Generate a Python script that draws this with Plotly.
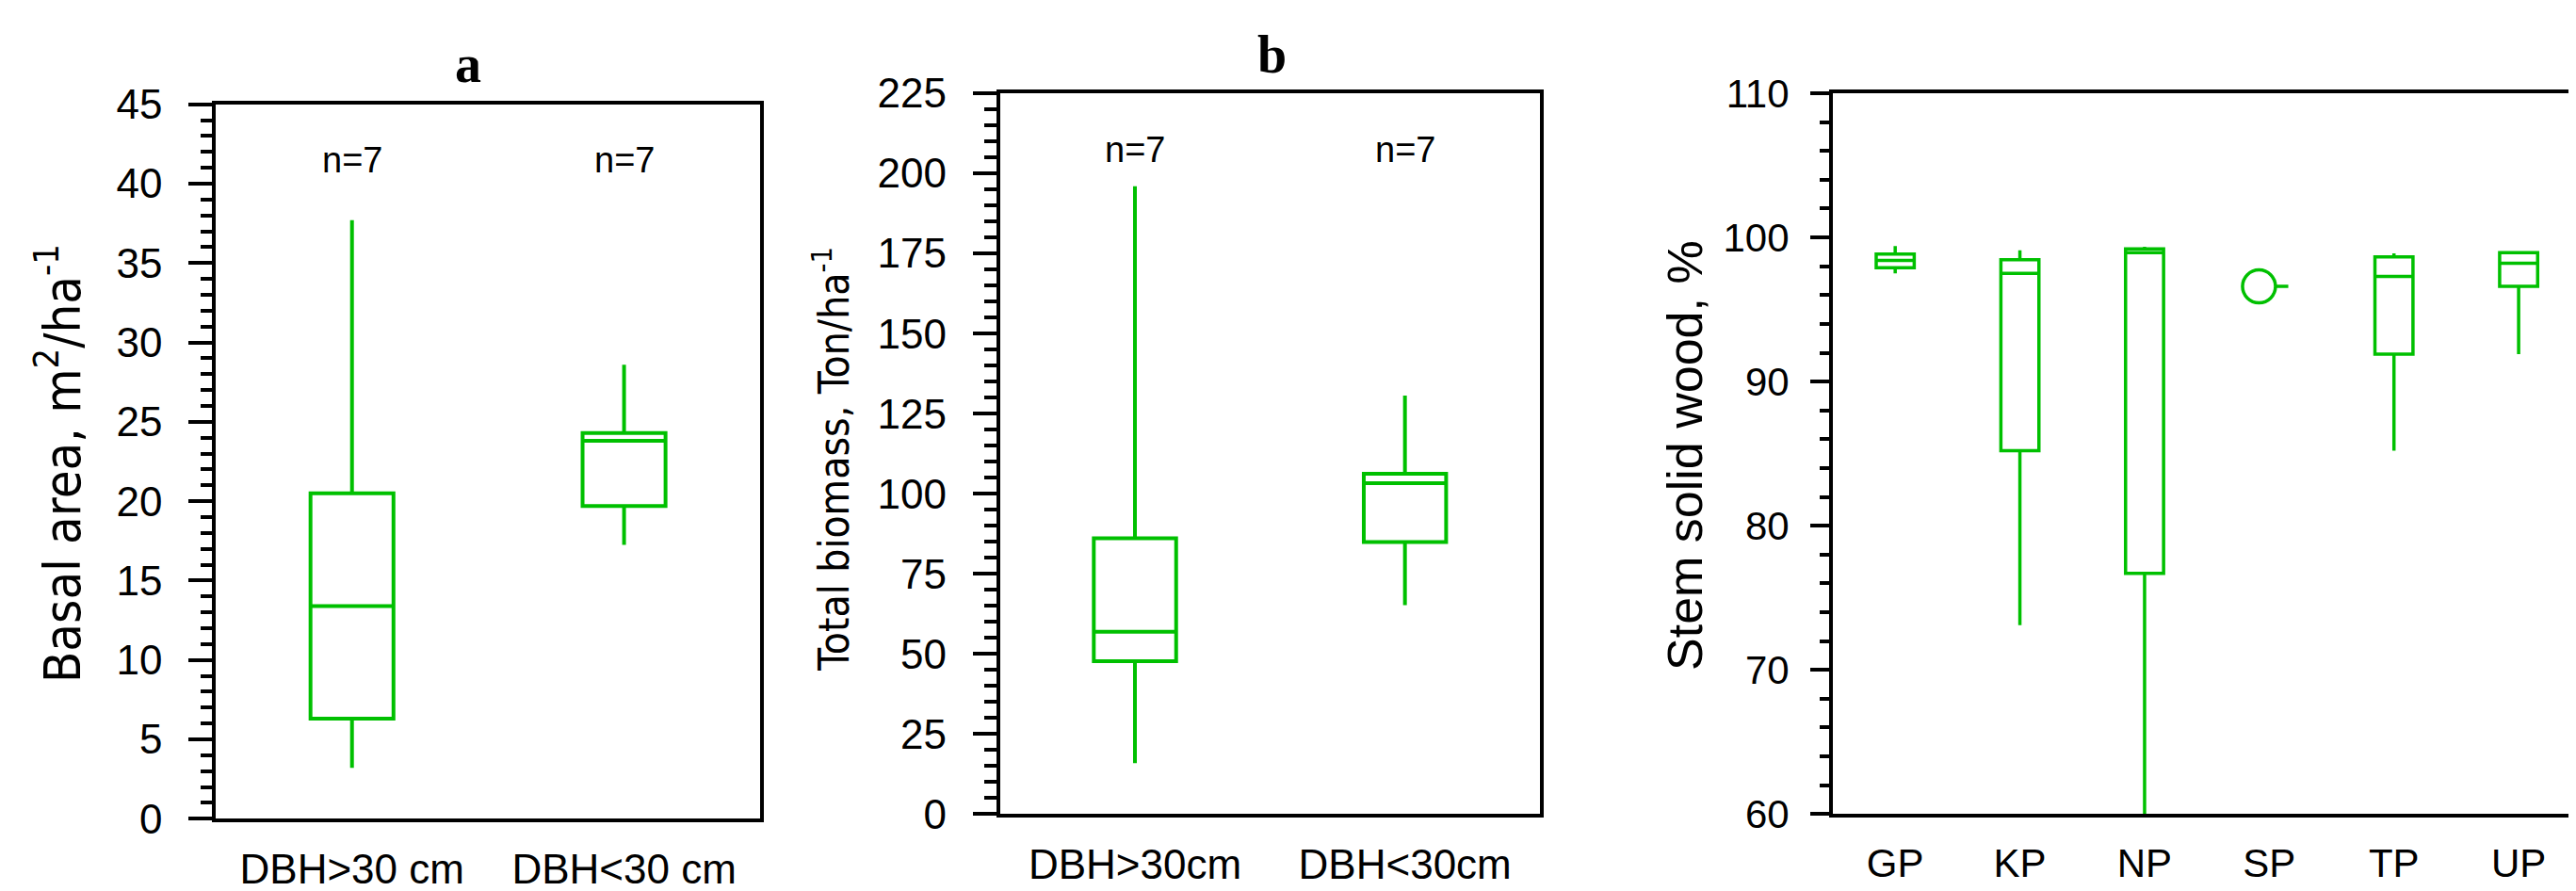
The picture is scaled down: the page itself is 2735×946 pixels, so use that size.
import plotly.graph_objects as go

# page has an 8px body margin: work in reference pixels and shift by it
OX, OY = 8, 8
W, H = 2735 - OX, 946 - OY
GREEN = "#00c000"

# ---------------- data ----------------
a_categories = ["DBH>30 cm", "DBH<30 cm"]
a_lower = [3.2, 17.25]
a_q1 = [6.3, 19.7]
a_median = [13.4, 23.8]
a_q3 = [20.5, 24.3]
a_upper = [37.7, 28.6]
a_n = [7, 7]

b_categories = ["DBH>30cm", "DBH<30cm"]
b_lower = [15.9, 65.2]
b_q1 = [47.7, 84.9]
b_median = [56.9, 103.3]
b_q3 = [86.1, 106.2]
b_upper = [196.0, 130.6]
b_n = [7, 7]

c_categories = ["GP", "KP", "NP", "SP", "TP", "UP"]
c_box_categories = ["GP", "KP", "NP", "TP", "UP"]
c_lower = [97.5, 73.1, 60.0, 85.2, 91.9]
c_q1 = [97.9, 85.2, 76.7, 91.9, 96.6]
c_median = [98.4, 97.5, 98.95, 97.3, 98.2]
c_q3 = [98.85, 98.45, 99.2, 98.65, 98.95]
c_upper = [99.4, 99.1, 99.35, 98.9, 99.05]
c_single_category = ["SP"]
c_single_value = [96.6]

a_yticks = list(range(0, 46, 5))
b_yticks = list(range(0, 226, 25))
c_yticks = list(range(60, 111, 10))


def fx(px):
    return (px - OX) / W


def fy(py):
    return 1 - (py - OY) / H


# ---------------- figure ----------------
fig = go.Figure()

box_style = dict(
    line=dict(color=GREEN, width=4),
    fillcolor="rgba(255,255,255,0)",
    width=0.305,
    boxpoints=False,
    showlegend=False,
    whiskerwidth=0,
)

fig.add_trace(go.Box(x=a_categories, q1=a_q1, median=a_median, q3=a_q3,
                     lowerfence=a_lower, upperfence=a_upper,
                     xaxis="x", yaxis="y", **box_style))
fig.add_trace(go.Box(x=b_categories, q1=b_q1, median=b_median, q3=b_q3,
                     lowerfence=b_lower, upperfence=b_upper,
                     xaxis="x2", yaxis="y2", **box_style))
c_style = dict(box_style)
c_style["line"] = dict(color=GREEN, width=3.5)
fig.add_trace(go.Box(x=c_box_categories, q1=c_q1, median=c_median, q3=c_q3,
                     lowerfence=c_lower, upperfence=c_upper,
                     xaxis="x3", yaxis="y3", **c_style))
c_single = dict(c_style)
c_single.update(boxpoints="all", jitter=0, pointpos=-0.54,
                marker=dict(symbol="circle", size=35, color="white",
                            line=dict(color=GREEN, width=3.5)))
fig.add_trace(go.Box(x=c_single_category * len(c_single_value), y=c_single_value,
                     xaxis="x3", yaxis="y3", **c_single))

SANS = "Liberation Sans, Arial, sans-serif"
TICKFONT = dict(family=SANS, size=44, color="black")
TICKFONT_C = dict(family=SANS, size=42, color="black")


def yaxis_cfg(domain, rng, tickvals, minor_dtick, ticklen, minorlen, standoff, mirror, anchor, font):
    return dict(
        domain=domain, range=rng, tickvals=tickvals, ticks="outside",
        ticklen=ticklen, tickwidth=3.5, tickcolor="black",
        minor=dict(dtick=minor_dtick, ticks="outside", ticklen=minorlen,
                   tickwidth=3.5, tickcolor="black", showgrid=False),
        showline=True, linewidth=4, linecolor="black", mirror=mirror,
        showgrid=False, zeroline=False, tickfont=font,
        ticklabelstandoff=standoff, fixedrange=True, automargin=False,
        anchor=anchor,
    )


def xaxis_cfg(domain, cats, rng, mirror, standoff, anchor, font):
    return dict(
        domain=domain, type="category", categoryorder="array", categoryarray=cats,
        range=rng, ticks="", showline=True, linewidth=4, linecolor="black",
        mirror=mirror, showgrid=False, zeroline=False, tickfont=font,
        ticklabelstandoff=standoff, fixedrange=True, automargin=False,
        anchor=anchor,
    )


ya_dom = [fy(869.3), fy(110.7)]
yb_dom = [fy(864.3), fy(99)]
yc_dom = [fy(864.3), fy(99)]

fig.update_layout(
    width=W, height=H,
    autosize=False,
    margin=dict(l=0, r=0, t=0, b=0, pad=0, autoexpand=False),
    paper_bgcolor="white", plot_bgcolor="white",
    boxmode="overlay",
    showlegend=False,
    xaxis=xaxis_cfg([fx(229.3), fx(807)], a_categories, [-0.5, 1.5], True, 12, "y", TICKFONT),
    yaxis=yaxis_cfg(ya_dom, [0, 45], a_yticks, 1, 25, 12.5, 19, True, "x", TICKFONT),
    xaxis2=xaxis_cfg([fx(1061.7), fx(1635)], b_categories, [-0.5, 1.5], True, 12, "y2", TICKFONT),
    yaxis2=yaxis_cfg(yb_dom, [0, 225], b_yticks, 5, 25, 12.5, 19, True, "x2", TICKFONT),
    xaxis3=xaxis_cfg([fx(1946), 1.0], c_categories, [-0.5, 5.46], True, 12, "y3", TICKFONT_C),
    yaxis3=yaxis_cfg(yc_dom, [60, 110], c_yticks, 2, 20, 10, 14, False, "x3", TICKFONT_C),
)

annotations = []
NFONT = dict(family=SANS, size=38, color="black")
for cat, n in zip(a_categories, a_n):
    annotations.append(dict(x=cat, y=41.5, xref="x", yref="y", text=f"n={n}",
                            xanchor="center", yanchor="middle",
                            showarrow=False, font=NFONT))
for cat, n in zip(b_categories, b_n):
    annotations.append(dict(x=cat, y=207.3, xref="x2", yref="y2", text=f"n={n}",
                            xanchor="center", yanchor="middle",
                            showarrow=False, font=NFONT))

SERIF = "Liberation Serif, Times New Roman, serif"
NARROW = "Liberation Sans Narrow, Arial Narrow, DejaVu Sans Condensed, sans-serif"


def paper_text(px, py, text, font, angle=0):
    return dict(x=fx(px), y=fy(py), xref="paper", yref="paper", text=text,
                xanchor="center", yanchor="middle", textangle=angle,
                showarrow=False, font=font)


annotations.append(paper_text(497, 68, "<b>a</b>", dict(family=SERIF, size=56, color="black")))
annotations.append(paper_text(1350, 58, "<b>b</b>", dict(family=SERIF, size=56, color="black")))
annotations.append(paper_text(62, 492, "Basal area, m<sup>2</sup>/ha<sup>-1</sup>",
                              dict(family=NARROW, size=54, color="black"), -90))
annotations.append(paper_text(882, 488, "Total biomass, Ton/ha<sup>-1</sup>",
                              dict(family=NARROW, size=44, color="black"), -90))
annotations.append(paper_text(1789, 484, "Stem solid wood, %",
                              dict(family=SANS, size=52, color="black"), -90))
fig.update_layout(annotations=annotations)

fig.write_html("out.html")
